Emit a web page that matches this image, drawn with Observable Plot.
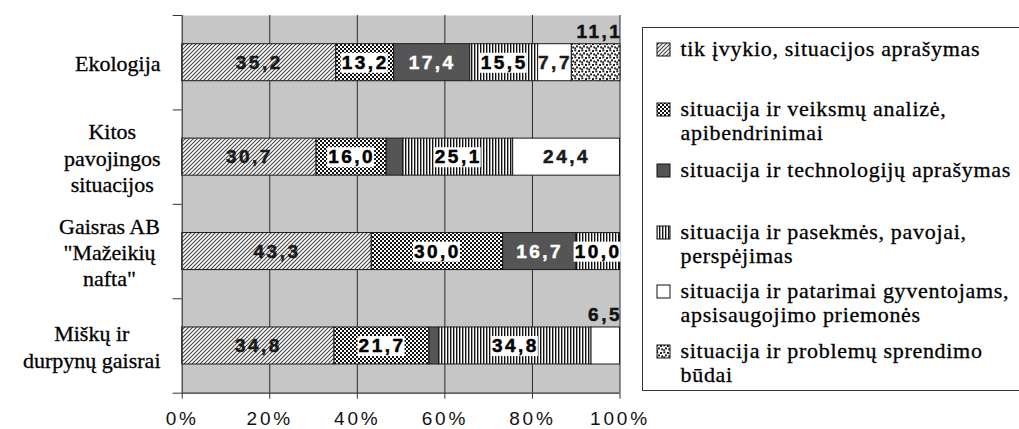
<!DOCTYPE html>
<html>
<head>
<meta charset="utf-8">
<script src="https://cdn.jsdelivr.net/npm/d3@7"></script>
<script src="https://cdn.jsdelivr.net/npm/@observablehq/plot@0.6"></script>
<style>
  html, body { margin: 0; padding: 0; background: #fff; overflow: hidden; }
  #wrap { position: relative; width: 1019px; height: 429px; overflow: hidden; }
  #chart { position: absolute; left: 0; top: 0; }
  #legend { position: absolute; left: 641.5px; top: 27px; width: 440px; height: 364px;
            border: 1px solid #333; box-sizing: border-box; background: #fff;
            font-family: "Liberation Serif", "Times New Roman", serif; font-size: 22px;
            letter-spacing: 0.7px; color: #000; -webkit-text-stroke: 0.3px #000; }
  .item { position: absolute; left: 0; width: 100%; }
  .item .sw { position: absolute; left: 13px; }
  .item .tx { position: absolute; left: 38px; line-height: 24px; white-space: nowrap; }
  text[aria-label^="lbl"] { letter-spacing: 2.5px; }
  g[aria-label="x-axis tick label"] text { letter-spacing: 2.8px; }
</style>
</head>
<body>
<div id="wrap">
  <svg id="defs" width="0" height="0" style="position:absolute">
    <defs>
      <pattern id="p-hatch" patternUnits="userSpaceOnUse" width="4" height="4">
        <rect width="4" height="4" fill="#fff"/>
        <path d="M-1,1 L1,-1 M0,4 L4,0 M3,5 L5,3" stroke="#444" stroke-width="1.1"/>
      </pattern>
      <pattern id="p-check" patternUnits="userSpaceOnUse" width="4" height="4">
        <rect width="4" height="4" fill="#fff"/>
        <rect x="0" y="0" width="2" height="2" fill="#111"/>
        <rect x="2" y="2" width="2" height="2" fill="#111"/>
      </pattern>
      <pattern id="p-vert" patternUnits="userSpaceOnUse" width="3" height="3">
        <rect width="3" height="3" fill="#fff"/>
        <rect x="0" y="0" width="1.4" height="3" fill="#111"/>
      </pattern>
      <pattern id="p-dots" patternUnits="userSpaceOnUse" width="7" height="7">
        <rect width="7" height="7" fill="#fff"/>
        <rect x="0.3" y="0.3" width="2" height="2" fill="#222"/>
        <rect x="4" y="1" width="2" height="2" fill="#222"/>
        <rect x="2" y="3.4" width="2" height="2" fill="#222"/>
        <rect x="5.2" y="4.4" width="1.8" height="2" fill="#222"/>
        <rect x="0.2" y="5.4" width="1.8" height="1.6" fill="#222"/>
      </pattern>
    </defs>
  </svg>
  <div id="chart"></div>
  <div id="legend"></div>
</div>
<script>
// ---- data ----
const categories = ["Ekologija", "Kitos pavojingos situacijos", "Gaisras AB \"Mažeikių nafta\"", "Miškų ir durpynų gaisrai"];
const categoryLines = [["Ekologija"], ["Kitos", "pavojingos", "situacijos"], ["Gaisras AB", "\"Mažeikių", "nafta\""], ["Miškų ir", "durpynų gaisrai"]];
const seriesNames = [
  "tik įvykio, situacijos aprašymas",
  "situacija ir veiksmų analizė, apibendrinimai",
  "situacija ir technologijų aprašymas",
  "situacija ir pasekmės, pavojai, perspėjimas",
  "situacija ir patarimai gyventojams, apsisaugojimo priemonės",
  "situacija ir problemų sprendimo būdai"
];
const legendLines = [
  ["tik įvykio, situacijos aprašymas"],
  ["situacija ir veiksmų analizė,", "apibendrinimai"],
  ["situacija ir technologijų aprašymas"],
  ["situacija ir pasekmės, pavojai,", "perspėjimas"],
  ["situacija ir patarimai gyventojams,", "apsisaugojimo priemonės"],
  ["situacija ir problemų sprendimo", "būdai"]
];
const valsDescription   = [35.2, 30.7, 43.3, 34.8];
const valsAnalysis      = [13.2, 16.0, 30.0, 21.7];
const valsTechnology    = [17.4, 3.8, 16.7, 2.2];
const valsConsequences  = [15.5, 25.1, 10.0, 34.8];
const valsAdvice        = [7.7, 24.4, 0, 6.5];
const valsSolutions     = [11.1, 0, 0, 0];
const seriesValues = [valsDescription, valsAnalysis, valsTechnology, valsConsequences, valsAdvice, valsSolutions];
const xTicks = [0, 20, 40, 60, 80, 100];
// labels drawn above the bar (category index, series index)
const outsideLabels = [[0, 5], [3, 4]];

// ---- styles ----
const fills = ["url(#p-hatch)", "url(#p-check)", "#555555", "url(#p-vert)", "#ffffff", "url(#p-dots)"];
const labelRole = ["plain", "boxed", "inverse", "boxed", "plain", "plain"];
const BAR_HALF = 0.196;
const SANS = "Liberation Sans, Arial, sans-serif";
const SERIF = "Liberation Serif, Times New Roman, serif";

const rows = [];
categories.forEach((c, ci) => {
  seriesNames.forEach((s, sj) => {
    const v = seriesValues[sj][ci];
    if (v > 0) rows.push({category: c, ci, series: s, sj, value: v});
  });
});
const fmt = v => v.toFixed(1).replace(".", ",");
const role = d => {
  if (outsideLabels.some(([a, b]) => a === d.ci && b === d.sj)) return "outside";
  if (d.value < 5) return "none";
  return labelRole[d.sj];
};
const yMid = d => d.ci + 0.5;
const lbl = (r, color) => Plot.text(rows, Plot.stackX({
  x: "value", y: yMid, fontSize: 19, fontWeight: "bold", fontFamily: SANS,
  text: d => role(d) === r ? fmt(d.value) : null,
  ariaLabel: () => "lbl-" + r, fill: color, stroke: color, strokeWidth: 0.5
}));

// category label offsets (centered lines, block right-aligned)
const ctx = document.createElement("canvas").getContext("2d");
ctx.font = "22px 'Liberation Serif'";
const catMarks = categoryLines.map((lines, i) => {
  const w = Math.max(...lines.map(t => ctx.measureText(t).width));
  return Plot.text([i], {
    x: 0, y: d => d + 0.5, text: d => categoryLines[d].join("\n"),
    textAnchor: "middle", lineAnchor: "middle", lineHeight: 1.2,
    dx: -(21.7 + w / 2), fontSize: 22, fontFamily: SERIF, fill: "#000",
    stroke: "#000", strokeWidth: 0.3
  });
});

const plot = Plot.plot({
  width: 630, height: 429,
  marginLeft: 181.7, marginRight: 10.5, marginTop: 15, marginBottom: 36.3,
  style: {background: "transparent", overflow: "visible", fontFamily: SANS},
  x: {domain: [0, 100]},
  y: {domain: [0, 4], reverse: true},
  color: {domain: seriesNames, range: fills},
  marks: [
    Plot.frame({fill: "#c6c6c6", stroke: "none"}),
    Plot.ruleX(xTicks.slice(1), {y1: 0, y2: 4, stroke: "#2a2a2a", strokeWidth: 1}),
    Plot.rectX(rows, Plot.stackX({
      x: "value", y1: d => d.ci + 0.5 - BAR_HALF, y2: d => d.ci + 0.5 + BAR_HALF,
      fill: "series", stroke: "#1a1a1a", strokeWidth: 1
    })),
    Plot.ruleX([0], {y1: 0, y2: 4, stroke: "#333", strokeWidth: 1.2}),
    Plot.ruleY([4], {x1: 0, x2: 100, stroke: "#333", strokeWidth: 1.2}),
    Plot.axisY({ticks: [0, 1, 2, 3, 4], tickSize: 9, tickFormat: () => "", label: null, stroke: "#333"}),
    Plot.axisX({ticks: xTicks, tickSize: 6, tickPadding: 12, tickFormat: d => d + "%", label: null,
                fontSize: 19, fontFamily: SANS, fill: "#111", stroke: "#333"}),
    lbl("plain", "#1a1a1a"),
    lbl("inverse", "#ffffff"),
    lbl("boxed", "#000"),
    Plot.text(rows, Plot.stackX2({
      x: "value", y: yMid, fontSize: 19, fontWeight: "bold", fontFamily: SANS,
      text: d => role(d) === "outside" ? fmt(d.value) : null,
      ariaLabel: () => "lbl-outside",
      textAnchor: "end", dy: -31, dx: 2, fill: "#111", stroke: "#111", strokeWidth: 0.5
    })),
    ...catMarks
  ]
});
document.getElementById("chart").append(plot);

// white boxes behind boxed labels
const NS = "http://www.w3.org/2000/svg";
plot.querySelectorAll('text[aria-label="lbl-boxed"]').forEach(t => {
  const b = t.getBBox();
  const r = document.createElementNS(NS, "rect");
  r.setAttribute("x", b.x - 1);
  r.setAttribute("y", b.y + 1);
  r.setAttribute("width", b.width);
  r.setAttribute("height", b.height - 1);
  r.setAttribute("fill", "#fff");
  r.setAttribute("stroke", "none");
  if (t.getAttribute("transform")) r.setAttribute("transform", t.getAttribute("transform"));
  t.parentNode.insertBefore(r, t);
});

// legend
const legend = document.getElementById("legend");
const itemTops = [9, 69, 130, 192, 251, 311];
legendLines.forEach((lines, j) => {
  const it = document.createElement("div");
  it.className = "item";
  it.style.top = itemTops[j] + "px";
  it.innerHTML = `<svg class="sw" width="15" height="15" style="top:4.5px"><rect x="1" y="1" width="13" height="13" fill="${fills[j]}" stroke="#111" stroke-width="1"/></svg>`;
  const tx = document.createElement("div");
  tx.className = "tx";
  tx.innerHTML = lines.join("<br>");
  it.append(tx);
  legend.append(it);
});
</script>
</body>
</html>
